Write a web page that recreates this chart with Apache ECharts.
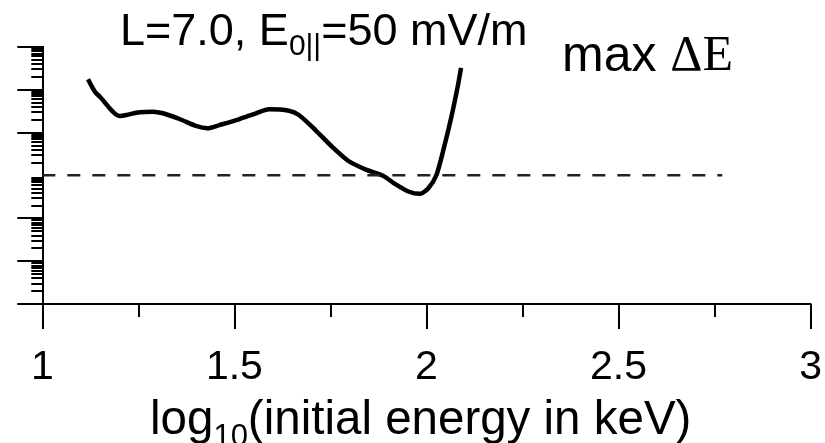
<!DOCTYPE html>
<html>
<head>
<meta charset="utf-8">
<script src="https://cdn.jsdelivr.net/npm/echarts@6/dist/echarts.min.js"></script>
<style>
  html, body { margin: 0; padding: 0; background: #fff; }
  #chart { width: 825px; height: 443px; }
</style>
</head>
<body>
<div id="chart"></div>
<script>
// log10 of initial energy (keV)
const energyLog = [1.119, 1.137, 1.150, 1.201, 1.219, 1.253, 1.288, 1.314, 1.357, 1.400,
  1.430, 1.461, 1.512, 1.556, 1.590, 1.642, 1.668, 1.711, 1.754, 1.797,
  1.841, 1.888, 1.918, 1.953, 1.983, 2.005, 2.026, 2.044, 2.065, 2.083, 2.090];
// max delta E (relative, log scale, dashed line = 1)
const maxDeltaE = [174, 89, 68, 24.2, 25.6, 29.6, 30.5, 28.0, 20.6, 14.2,
  12.5, 14.9, 20.3, 28.0, 34.8, 32.2, 25.6, 11.4, 4.66, 2.16,
  1.38, 0.97, 0.63, 0.42, 0.37, 0.50, 1.02, 3.90, 23.3, 140, 319];
// reference level (dashed)
const refX = [0.935, 2.77];
const refLevel = 1;
// y decades (log10) that carry a long tick
const majorDecades = [-3, -2, -1, 1, 2, 3];
const allDecades = [-3, -2, -1, 0, 1, 2];
const xTicks = [1, 1.5, 2, 2.5, 3];

const minorTicks = [];
allDecades.forEach(function (d) {
  for (let k = 2; k <= 9; k++) minorTicks.push(d + Math.log10(k));
});

const chart = echarts.init(document.getElementById('chart'));
const black = '#000';

chart.setOption({
  animation: false,
  backgroundColor: '#fff',
  grid: { left: 42.3, right: 11, top: 46.7, bottom: 139, containLabel: false },
  xAxis: {
    type: 'value',
    min: xTicks[0],
    max: xTicks[xTicks.length - 1],
    interval: 0.5,
    axisLine: { onZero: false, lineStyle: { color: black, width: 2 } },
    axisTick: { length: 25, lineStyle: { color: black, width: 2 } },
    minorTick: { show: true, splitNumber: 2, length: 13, lineStyle: { color: black, width: 2 } },
    splitLine: { show: false },
    axisLabel: { color: black, fontSize: 41, fontFamily: 'Arial', margin: 43 }
  },
  yAxis: [{
    type: 'value',
    min: -3,
    max: 3,
    axisLine: { show: true, onZero: false, lineStyle: { color: black, width: 2 } },
    axisTick: { show: true, customValues: majorDecades, length: 25, lineStyle: { color: black, width: 2 } },
    axisLabel: { show: false },
    splitLine: { show: false }
  }, {
    type: 'value',
    min: -3,
    max: 3,
    position: 'left',
    axisLine: { show: false, onZero: false },
    axisTick: { show: true, customValues: minorTicks, length: 11, lineStyle: { color: black, width: 2 } },
    axisLabel: { show: false },
    splitLine: { show: false }
  }],
  series: [{
    type: 'line',
    data: energyLog.map(function (x, i) { return [x, Math.log10(maxDeltaE[i])]; }),
    smooth: 0.25,
    showSymbol: false,
    clip: false,
    lineStyle: { color: black, width: 4.5 }
  }, {
    type: 'line',
    data: refX.map(function (x) { return [x, Math.log10(refLevel)]; }),
    showSymbol: false,
    clip: false,
    lineStyle: { color: '#222', width: 2.5, type: [13, 12] }
  }],
  graphic: [{
    type: 'text',
    left: 120,
    top: 10,
    style: {
      text: '{a|L=7.0, E}{s|0||}{a|=50 mV/m}',
      rich: {
        a: { fontSize: 45, fontFamily: 'Arial', fill: black, verticalAlign: 'top' },
        s: { fontSize: 30, fontFamily: 'Arial', fill: black, verticalAlign: 'top', padding: [22, 0, 0, 0] }
      }
    }
  }, {
    type: 'text',
    left: 562,
    top: 32,
    style: {
      text: '{a|max }{b|\u0394E}',
      rich: {
        a: { fontSize: 50, fontFamily: 'Arial', fill: black, verticalAlign: 'top' },
        b: { fontSize: 50, fontFamily: 'Liberation Serif', fill: black, verticalAlign: 'top' }
      }
    }
  }, {
    type: 'text',
    left: 150,
    top: 397,
    style: {
      text: '{a|log}{s|10}{a|(initial energy in keV)}',
      rich: {
        a: { fontSize: 47.5, fontFamily: 'Arial', fill: black, verticalAlign: 'top' },
        s: { fontSize: 31, fontFamily: 'Arial', fill: black, verticalAlign: 'top', padding: [25, 0, 0, 0] }
      }
    }
  }]
});
</script>
</body>
</html>
